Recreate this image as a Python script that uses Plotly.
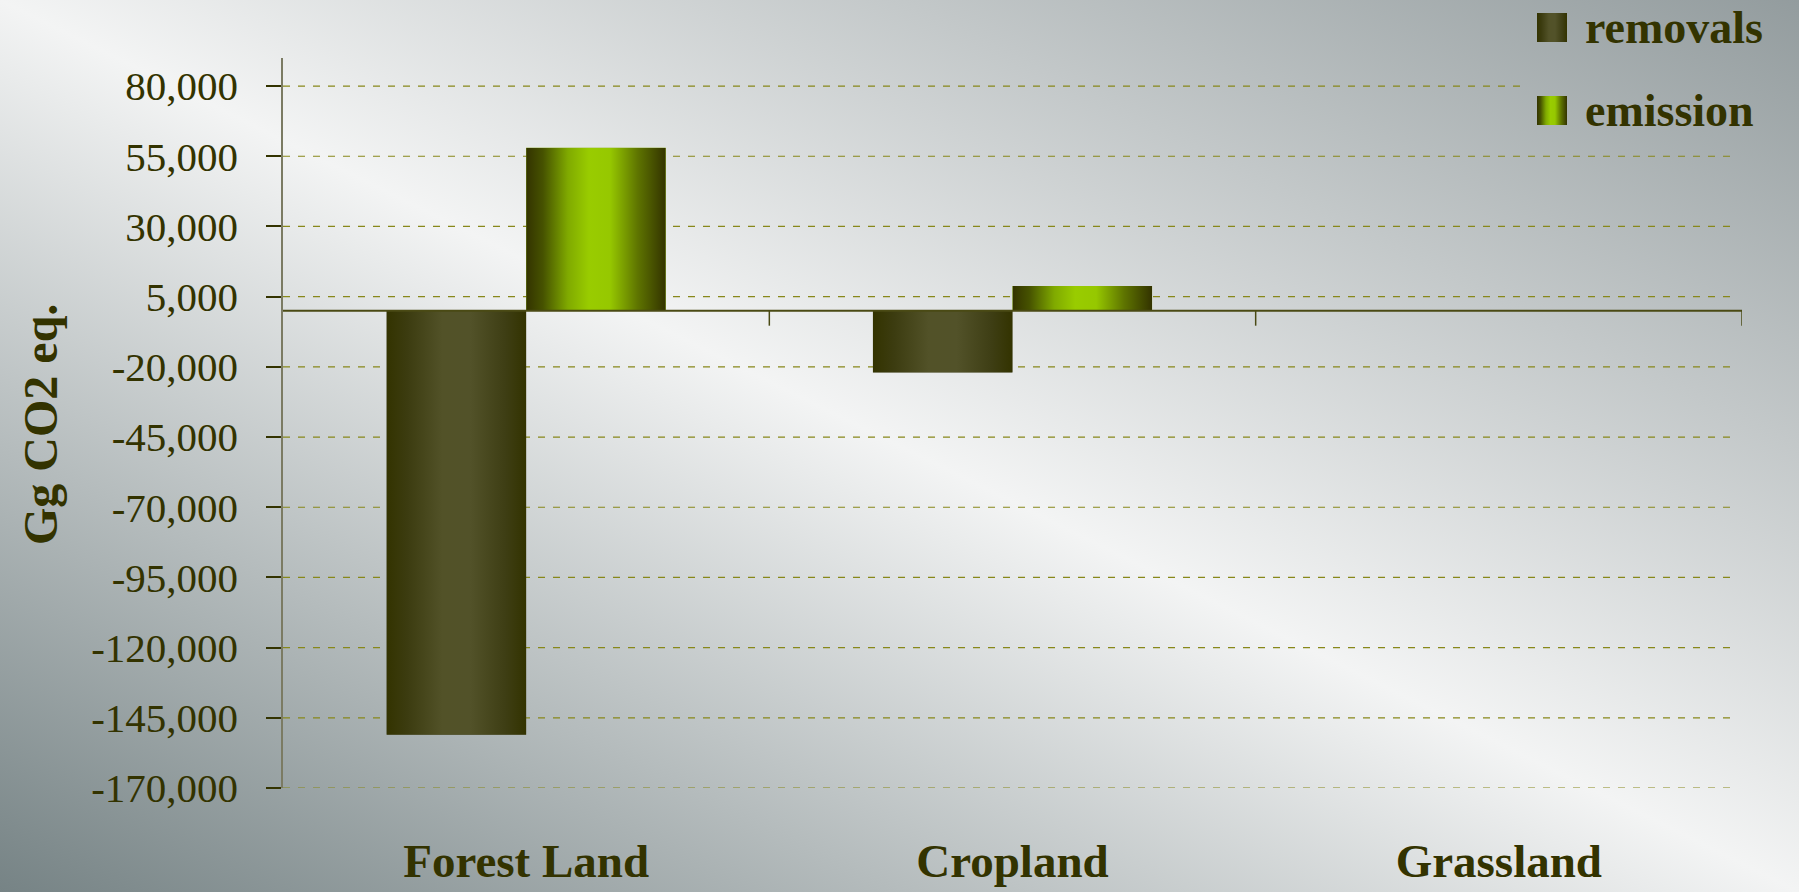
import base64
import plotly.graph_objects as go


# ---------------------------------------------------
# Data
# ---------------------------------------------------

categories = ["Forest Land", "Cropland", "Grassland"]
removals = [-151000, -22000, 0]
emission = [58000, 8800, 0]

y_ticks = [-170000, -145000, -120000, -95000, -70000, -45000, -20000,
           5000, 30000, 55000, 80000]
y_tick_text = ["-170,000", "-145,000", "-120,000", "-95,000", "-70,000",
               "-45,000", "-20,000", "5,000", "30,000", "55,000", "80,000"]

FONT = "Palatino Linotype, Book Antiqua, Palatino, Liberation Serif, serif"
TEXT = "#333300"

W, H = 1799, 892
ML, MR, MT, MB = 283, 57, 58, 104
PW, PH = W - ML - MR, H - MT - MB

BAR_W = 0.287


# ---------------------------------------------------
# Gradient helpers (svg data uris)
# ---------------------------------------------------

def svg_uri(svg):
    return "data:image/svg+xml;base64," + base64.b64encode(svg.encode()).decode()


def gradient(stops, x2=1, y1=0, w=100, h=100):
    s = "".join(f"<stop offset='{o}' stop-color='{c}'/>" for o, c in stops)
    return svg_uri(
        f"<svg xmlns='http://www.w3.org/2000/svg' width='{w}' height='{h}' "
        f"viewBox='0 0 {w} {h}' preserveAspectRatio='none'><defs>"
        f"<linearGradient id='g' x1='0' y1='{y1}' x2='{x2}' y2='0'>{s}"
        f"</linearGradient></defs><rect width='{w}' height='{h}' fill='url(#g)'/></svg>"
    )


bg_img = gradient(
    [(0, "#768385"), (0.5, "#f3f4f4"), (1, "#939c9e")],
    x2=1, y1=1, w=W, h=H
)

removals_img = gradient(
    [(0, "#333300"), (0.15, "#3c3c10"), (0.4, "#525228"),
     (0.6, "#525229"), (0.85, "#3e3e14"), (1, "#333300")]
)

emission_img = gradient(
    [(0, "#333300"), (0.12, "#465200"), (0.3, "#80aa00"), (0.45, "#99cc00"),
     (0.6, "#96c800"), (0.8, "#5e7400"), (1, "#333300")]
)


# ---------------------------------------------------
# Figure
# ---------------------------------------------------

fig = go.Figure()

fig.add_trace(go.Bar(
    x=list(range(len(categories))), y=removals, name="removals",
    width=BAR_W, offset=-BAR_W, marker_color="#454520",
    marker_line_width=0, showlegend=False
))

fig.add_trace(go.Bar(
    x=list(range(len(categories))), y=emission, name="emission",
    width=BAR_W, offset=0, marker_color="#80aa00",
    marker_line_width=0, showlegend=False
))

images = [dict(
    source=bg_img, xref="paper", yref="paper",
    x=-ML / PW, y=1 + MT / PH, sizex=W / PW, sizey=H / PH,
    xanchor="left", yanchor="top", sizing="stretch", layer="below"
)]

# gradient overlay on each bar
for vals, img, off in [(removals, removals_img, -BAR_W), (emission, emission_img, 0)]:
    for i, v in enumerate(vals):
        if v == 0:
            continue
        images.append(dict(
            source=img, xref="x", yref="y",
            x=i + off, y=max(v, 0), sizex=BAR_W, sizey=abs(v),
            xanchor="left", yanchor="top", sizing="stretch", layer="above"
        ))

# legend symbols
for name, img, ytop in [("removals", removals_img, (H - MB - 13) / PH),
                        ("emission", emission_img, (H - MB - 96) / PH)]:
    images.append(dict(
        source=img, xref="paper", yref="paper",
        x=(1537 - ML) / PW, y=ytop, sizex=30 / PW, sizey=29 / PH,
        xanchor="left", yanchor="top", sizing="stretch", layer="above"
    ))

shapes = []

# dashed gridlines
for v in y_ticks:
    x_end = (1520 - ML) / PW if v == 80000 else (1738 - ML) / PW
    shapes.append(dict(
        type="line", xref="paper", yref="y", x0=0, x1=x_end, y0=v, y1=v,
        line=dict(color="#88881a", width=1.2, dash="7px,8px"), layer="below"
    ))

# category axis at zero
shapes.append(dict(
    type="line", xref="paper", yref="y", x0=0, x1=1, y0=0, y1=0,
    line=dict(color="#4a4a14", width=2), layer="above"
))

for b in [0.5, 1.5, 2.5]:
    shapes.append(dict(
        type="line", xref="x", yref="y", ysizemode="pixel", yanchor=0,
        x0=b, x1=b, y0=0, y1=-15,
        line=dict(color="#4a4a14", width=1.5), layer="above"
    ))

annotations = [
    dict(
        text="Gg CO2 eq.", xref="paper", yref="paper",
        x=(40 - ML) / PW, y=(H - MB - 424) / PH, textangle=-90,
        showarrow=False, xanchor="center", yanchor="middle",
        font=dict(family=FONT, size=48, color=TEXT, weight=700)
    )
]

for name, yc in [("removals", (H - MB - 27) / PH), ("emission", (H - MB - 110) / PH)]:
    annotations.append(dict(
        text=name, xref="paper", yref="paper",
        x=(1583 - ML) / PW, y=yc, showarrow=False,
        xanchor="left", yanchor="middle",
        font=dict(family=FONT, size=46, color=TEXT, weight=700)
    ))

fig.update_layout(
    width=W, height=H,
    margin=dict(l=ML, r=MR, t=MT, b=MB, autoexpand=False),
    paper_bgcolor="#f3f4f4",
    plot_bgcolor="rgba(0,0,0,0)",
    barmode="overlay",
    showlegend=False,
    images=images,
    shapes=shapes,
    annotations=annotations,
    xaxis=dict(
        range=[-0.5, 2.5],
        tickvals=list(range(len(categories))),
        ticktext=categories,
        showgrid=False, zeroline=False, showline=False, ticks="",
        ticklabelstandoff=41,
        tickfont=dict(family=FONT, size=47, color=TEXT, weight=700)
    ),
    yaxis=dict(
        range=[-170000, 90000],
        tickvals=y_ticks,
        ticktext=y_tick_text,
        showgrid=False, zeroline=False,
        showline=True, linecolor="#7b7b63", linewidth=1.5,
        ticks="outside", ticklen=15, tickcolor=TEXT, tickwidth=1.5,
        ticklabelstandoff=20,
        tickfont=dict(family=FONT, size=41, color=TEXT)
    )
)

fig.write_html(
    "out.html",
    config={"displayModeBar": False},
    post_script="document.body.style.margin='0';"
)
